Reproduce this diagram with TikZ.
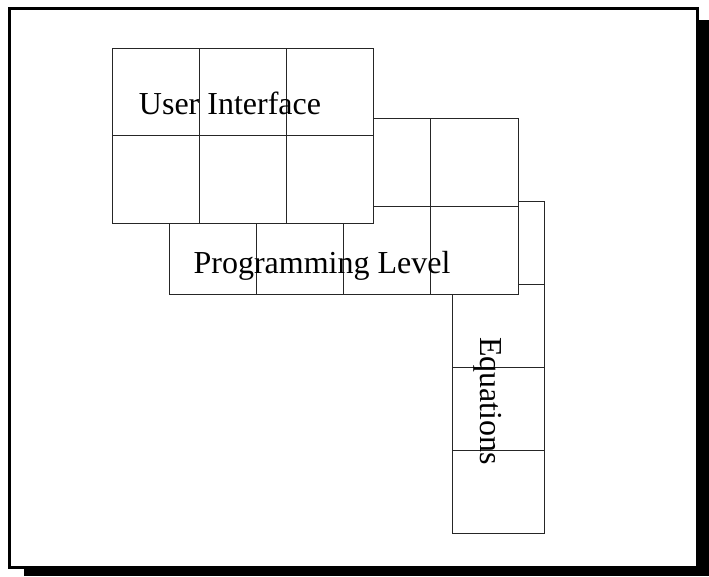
\documentclass[tikz,border=0pt]{standalone}
\usepackage{fontspec}
\setmainfont{Liberation Serif}
\usetikzlibrary{calc,positioning}
\tikzset{
  frame/.style={draw=black, line width=3pt, fill=white},
  dropshadow/.style={fill=black},
  block/.style={draw=black!85, line width=0.8pt, fill=white, inner sep=0pt,
                outer sep=0pt, anchor=north west},
  cell/.style={draw=black!85, line width=0.8pt},
  tag/.style={font=\fontsize{32}{36}\selectfont, inner sep=0pt},
}
\begin{document}
\begin{tikzpicture}[x=1pt, y=-1pt]
\useasboundingbox (0,0) rectangle (709,576);
\fill[dropshadow] (24,20) rectangle (709,576);
\draw[frame] (9.5,8.5) rectangle (697,567);
% equations column (back)
\node[block, minimum width=92pt, minimum height=332pt] (eqn) at (452,201) {};
\foreach \i in {1,2,3}
  \draw[cell] ($(eqn.north west)!\i/4!(eqn.south west)$) -- ($(eqn.north east)!\i/4!(eqn.south east)$);
% programming level
\node[block, minimum width=349pt, minimum height=176pt] (prog) at (169,118) {};
\foreach \i in {1,2,3}
  \draw[cell] ($(prog.north west)!\i/4!(prog.north east)$) -- ($(prog.south west)!\i/4!(prog.south east)$);
\draw[cell] (prog.west) -- (prog.east);
% user interface (front)
\node[block, minimum width=261pt, minimum height=175pt] (ui) at (112,48) {};
\foreach \i in {1,2}
  \draw[cell] ($(ui.north west)!\i/3!(ui.north east)$) -- ($(ui.south west)!\i/3!(ui.south east)$);
\draw[cell] (ui.west) -- (ui.east);
% labels
\node[tag, anchor=base] (uitext) at (230,114) {User Interface};
\node[tag, anchor=base] (progtext) at (322,273) {Programming Level};
\node[tag, rotate=-90, anchor=base west] (eqntext) at (480,337) {Equations};
\end{tikzpicture}
\end{document}
